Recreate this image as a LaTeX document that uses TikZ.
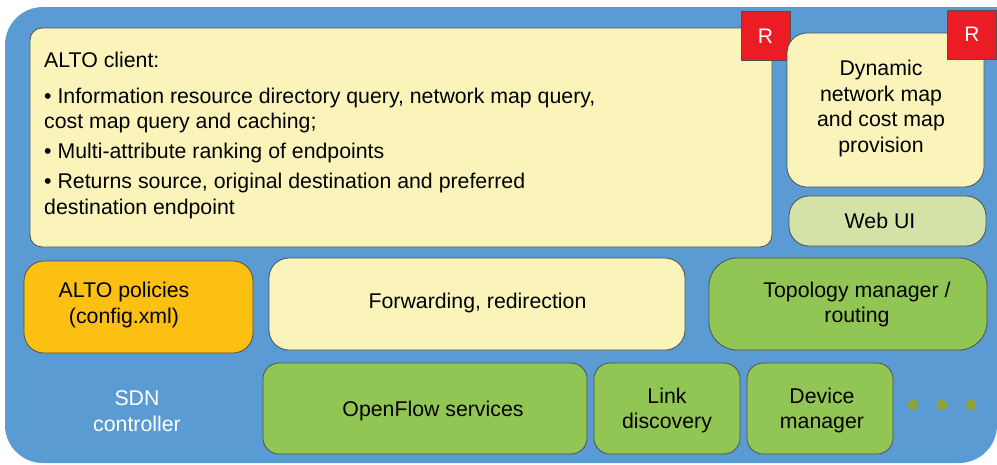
\documentclass[tikz,border=0pt]{standalone}
\usepackage{fontspec}
\setmainfont{Liberation Sans}
\definecolor{ctrlblue}{RGB}{91,155,212}
\definecolor{paleyellow}{RGB}{250,244,187}
\definecolor{amber}{RGB}{252,192,18}
\definecolor{leafgreen}{RGB}{146,198,84}
\definecolor{palegreen}{RGB}{213,226,167}
\definecolor{badgered}{RGB}{236,28,36}
\definecolor{olive}{RGB}{139,165,60}
\definecolor{edge}{RGB}{80,80,80}
\begin{document}
\begin{tikzpicture}[x=1pt,y=-1pt,
  box/.style={draw=edge,line width=0.8pt,minimum width=#1,inner sep=0pt},
  lbl/.style={font=\fontsize{21.3}{25.5}\selectfont,align=center,text=black,inner sep=0pt},
  para/.style={font=\fontsize{21.3}{25.5}\selectfont,anchor=base west,text=black,inner sep=0pt},
  badge/.style={fill=badgered,draw=edge,line width=0.6pt,minimum width=49pt,minimum height=49pt,inner sep=0pt},
  badgetext/.style={font=\fontsize{21}{24}\selectfont,text=white,inner sep=0pt}]
\useasboundingbox (0,0) rectangle (997,464);
% controller background
\fill[ctrlblue,rounded corners=38pt] (5,7) rectangle (997,463);
\fill[ctrlblue] (500,7) rectangle (997,100);

% ALTO client
\node[box=742pt,minimum height=219pt,fill=paleyellow,rounded corners=12pt] (client) at (401,137.5) {};
\node[para] (c0) at (44,67) {ALTO client:};
\node[para] (c1) at (44,103) {• Information resource directory query, network map query,};
\node[para] (c2) at (44,128) {cost map query and caching;};
\node[para] (c3) at (44,158) {• Multi-attribute ranking of endpoints};
\node[para] (c4) at (44,188) {• Returns source, original destination and preferred};
\node[para] (c5) at (44,214) {destination endpoint};
\node[badge] (r1) at (765.5,36) {};
\node[badgetext] at (r1.center) (r1t) {R};

% dynamic maps
\node[box=197pt,minimum height=154pt,fill=paleyellow,rounded corners=20pt] (dyn) at (885.5,110) {};
\node[lbl] (dynt) at (881,108.5) {Dynamic\\network map\\and cost map\\provision};
\node[badge] (r2) at (972,34.5) {};
\node[badgetext] (r2t) at (r2.center) {R};

% web UI
\node[box=197pt,minimum height=50pt,fill=palegreen,rounded corners=20pt] (web) at (887.5,221) {};
\node[lbl] (webt) at (880,221) {Web UI};

% middle row
\node[box=229pt,minimum height=92pt,fill=amber,rounded corners=20pt] (pol) at (138.5,307) {};
\node[lbl] (polt) at (124,305) {ALTO policies\\(config.xml)};
\node[box=416pt,minimum height=92pt,fill=paleyellow,rounded corners=20pt] (fwd) at (477,304) {};
\node[lbl] (fwdt) at (477.5,303) {Forwarding, redirection};
\node[box=278pt,minimum height=92pt,fill=leafgreen,rounded corners=28pt] (topo) at (848,304) {};
\node[lbl] (topot) at (857,304.5) {Topology manager /\\routing};

% bottom row
\node[lbl,text=white] (sdn) at (137,411) {SDN\\controller};
\node[box=324pt,minimum height=91pt,fill=leafgreen,rounded corners=16pt] (ofs) at (425,408.5) {};
\node[lbl] (ofst) at (433,411) {OpenFlow services};
\node[box=146pt,minimum height=91pt,fill=leafgreen,rounded corners=16pt] (link) at (667,408.5) {};
\node[lbl] (linkt) at (667,410.5) {Link\\discovery};
\node[box=146pt,minimum height=91pt,fill=leafgreen,rounded corners=16pt] (dev) at (820,408.5) {};
\node[lbl] (devt) at (822,410.5) {Device\\manager};
\foreach \x/\n in {913/d1,942/d2,971/d3}
  \node[circle,fill=olive,minimum size=11pt,inner sep=0pt] (\n) at (\x,405) {};
\end{tikzpicture}
\end{document}
